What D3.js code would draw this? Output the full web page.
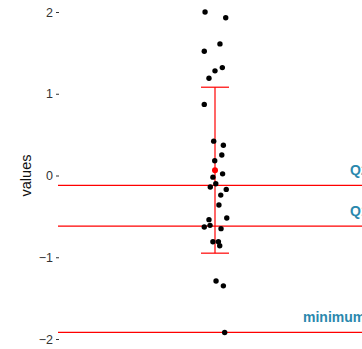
<!DOCTYPE html>
<html>
<head>
<meta charset="utf-8">
<script src="https://cdn.jsdelivr.net/npm/d3@7"></script>
<style>
  body { margin: 0; background: #fff; }
  svg { display: block; font-family: "Liberation Sans", Arial, sans-serif; }
</style>
</head>
<body>
<svg id="chart" width="362" height="349"></svg>
<script>
// observed values (one group) and their horizontal jitter
const values = [2.0, 1.93, 1.61, 1.52, 1.28, 1.32, 1.19, 0.87, 0.42, 0.37, 0.25, 0.18,
  0.02, -0.02, -0.10, -0.14, -0.17, -0.24, -0.36, -0.52, -0.54, -0.63, -0.61, -0.65,
  -0.81, -0.81, -0.86, -1.29, -1.35, -1.92];
const jitter = [-0.038, 0.041, 0.019, -0.041, 0.0, 0.028, -0.023, -0.041, -0.005, 0.032,
  0.026, -0.001, 0.029, -0.008, 0.003, -0.018, 0.043, 0.022, 0.015, 0.045, -0.023,
  -0.041, -0.019, 0.023, -0.008, 0.013, 0.018, 0.004, 0.032, 0.037];

// summary markers
const meanValue = 0.065;
const errorBar = { lo: -0.95, hi: 1.08 };
const refLines = [
  { value: -0.12, label: "Q2" },
  { value: -0.62, label: "Q1" },
  { value: -1.92, label: "minimum" }
];
const yTicks = [-2, -1, 0, 1, 2];

const svg = d3.select("#chart");
const margin = { left: 58, right: -10, top: 12, bottom: 10 };
const W = 362, H = 349;

const y = d3.scaleLinear().domain([-2, 2]).range([339, 12]);
const x = d3.scaleLinear().domain([0.4, 1.6]).range([margin.left, W - margin.right]);
const cx = x(1);

// y axis: ticks + labels, no domain line
const yAxis = svg.append("g")
  .attr("transform", `translate(${margin.left + 1},0)`)
  .call(d3.axisLeft(y).tickValues(yTicks).tickSize(3).tickPadding(3)
    .tickFormat(d => d < 0 ? "\u2212" + Math.abs(d) : d));
yAxis.select(".domain").remove();
yAxis.selectAll(".tick line").attr("stroke", "#333");
yAxis.selectAll(".tick text").attr("fill", "#333").attr("font-size", 12.5)
  .attr("font-family", "Liberation Sans, Arial, sans-serif");

svg.append("text")
  .attr("transform", `translate(31,${y(0)}) rotate(-90)`)
  .attr("text-anchor", "middle")
  .attr("font-size", 14.5)
  .attr("fill", "#111")
  .text("values");

// error bar
const eb = svg.append("g").attr("stroke", "red").attr("stroke-width", 1.2);
eb.append("line").attr("x1", cx).attr("x2", cx).attr("y1", y(errorBar.hi)).attr("y2", y(errorBar.lo));
[errorBar.hi, errorBar.lo].forEach(v => {
  eb.append("line").attr("x1", cx - 14).attr("x2", cx + 14).attr("y1", y(v)).attr("y2", y(v));
});

// reference lines
svg.append("g").selectAll("line").data(refLines).join("line")
  .attr("x1", margin.left).attr("x2", W)
  .attr("y1", d => y(d.value)).attr("y2", d => y(d.value))
  .attr("stroke", "red").attr("stroke-width", 1.2);

// points
svg.append("g").selectAll("circle").data(values).join("circle")
  .attr("cx", (d, i) => x(1 + jitter[i]))
  .attr("cy", d => y(d))
  .attr("r", 2.7)
  .attr("fill", "#000");

svg.append("circle")
  .attr("cx", cx).attr("cy", y(meanValue)).attr("r", 3).attr("fill", "red");

// labels (cut off at the right edge, as in the source figure)
const labelX = { "Q2": 350, "Q1": 350, "minimum": 303 };
svg.append("g").selectAll("text").data(refLines).join("text")
  .attr("x", d => labelX[d.label])
  .attr("y", d => y(d.value) - 10)
  .attr("font-size", 14)
  .attr("font-weight", "bold")
  .attr("fill", "#2a88ad")
  .text(d => d.label);
</script>
</body>
</html>
